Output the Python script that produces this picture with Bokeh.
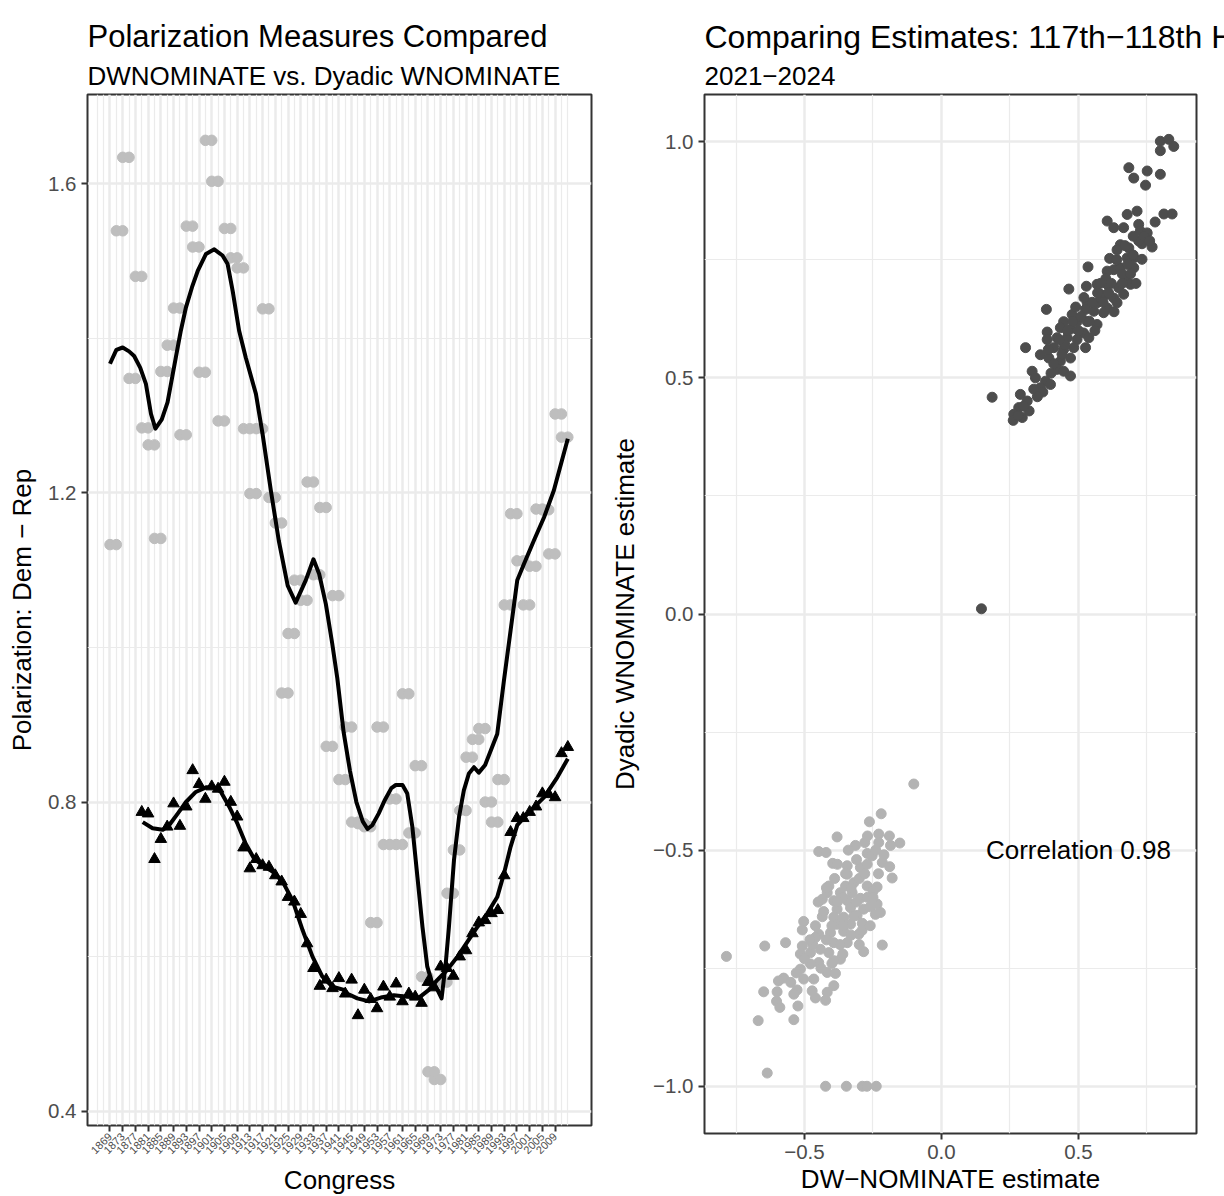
import math
from bokeh.plotting import figure
from bokeh.models import FixedTicker, CustomJSTickFormatter, Label, Range1d
from bokeh.layouts import row, column
from bokeh.embed import file_html
from bokeh.resources import INLINE

FONT = "Liberation Sans"
TICK_GREY = "#4D4D4D"
BORDER = "#333333"
GRID = "#EBEBEB"

# ---------------- left panel data ----------------
left_title = "Polarization Measures Compared"
left_subtitle = "DWNOMINATE vs. Dyadic WNOMINATE"
congress_start = list(range(1869, 2012, 2))
dwnominate_gap = [
    1.133, 1.539, 1.634, 1.348, 1.480, 1.284, 1.262, 1.141, 1.357, 1.391,
    1.439, 1.275, 1.545, 1.518, 1.356, 1.656, 1.603, 1.293, 1.542, 1.504,
    1.491, 1.283, 1.199, 1.283, 1.438, 1.194, 1.161, 0.941, 1.018, 1.087,
    1.061, 1.214, 1.094, 1.181, 0.872, 1.067, 0.829, 0.897, 0.774, 0.772,
    0.768, 0.644, 0.897, 0.745, 0.804, 0.745, 0.940, 0.760, 0.847, 0.574,
    0.451, 0.441, 0.567, 0.682, 0.738, 0.789, 0.858, 0.881, 0.895, 0.800,
    0.774, 0.829, 1.055, 1.173, 1.112, 1.055, 1.105, 1.179, 1.178, 1.121,
    1.302, 1.272]

dyadic_year = list(range(1879, 2014, 2))
dyadic_gap = [
    0.787, 0.785, 0.726, 0.752, 0.768, 0.798, 0.769, 0.794, 0.841, 0.823,
    0.804, 0.820, 0.817, 0.826, 0.800, 0.781, 0.741, 0.714, 0.726, 0.718,
    0.716, 0.705, 0.697, 0.677, 0.671, 0.655, 0.617, 0.585, 0.562, 0.570,
    0.559, 0.572, 0.552, 0.570, 0.524, 0.557, 0.545, 0.533, 0.561, 0.548,
    0.565, 0.542, 0.552, 0.548, 0.540, 0.567, 0.560, 0.587, 0.585, 0.575,
    0.600, 0.608, 0.630, 0.644, 0.647, 0.656, 0.660, 0.705, 0.761, 0.779,
    0.779, 0.787, 0.794, 0.811, 0.810, 0.806, 0.863, 0.871]

dw_smooth_year = [
    1869.0, 1871.0, 1873.0, 1875.0, 1876.6, 1878.5, 1880.3, 1881.9, 1883.3, 1885.3,
    1887.1, 1889.7, 1891.3, 1892.9, 1894.8, 1896.6, 1899.2, 1901.8, 1904.4, 1906.0,
    1907.6, 1909.6, 1911.7, 1914.9, 1917.0, 1919.6, 1922.1, 1924.9, 1927.4, 1930.6,
    1933.0, 1934.8, 1936.9, 1938.9, 1940.5, 1942.5, 1944.5, 1946.5, 1948.5, 1950.0,
    1951.5, 1953.5, 1955.5, 1957.5, 1958.9, 1961.0, 1962.5, 1964.1, 1965.7, 1967.3,
    1968.8, 1970.4, 1972.0, 1973.3, 1974.6, 1975.6, 1977.2, 1978.8, 1980.3, 1981.9,
    1983.5, 1985.0, 1987.0, 1990.8, 1992.9, 1995.0, 1997.1, 1999.2, 2002.3, 2005.5,
    2008.6, 2013.0]
dw_smooth_value = [
    1.367, 1.385, 1.388, 1.383, 1.377, 1.362, 1.341, 1.302, 1.283, 1.295,
    1.317, 1.375, 1.410, 1.440, 1.466, 1.487, 1.509, 1.515, 1.507, 1.496,
    1.461, 1.410, 1.375, 1.328, 1.276, 1.203, 1.138, 1.080, 1.058, 1.087,
    1.114, 1.095, 1.056, 1.005, 0.960, 0.890, 0.840, 0.800, 0.775, 0.765,
    0.770, 0.785, 0.803, 0.818, 0.822, 0.822, 0.811, 0.768, 0.703, 0.638,
    0.587, 0.565, 0.557, 0.546, 0.591, 0.638, 0.725, 0.781, 0.815, 0.837,
    0.845, 0.838, 0.848, 0.888, 0.957, 1.022, 1.087, 1.108, 1.138, 1.168,
    1.203, 1.270]

dyadic_smooth_year = [
    1879.3, 1882.4, 1885.6, 1887.6, 1890.3, 1892.9, 1896.0, 1899.2, 1901.8, 1903.9,
    1906.5, 1909.1, 1911.7, 1914.3, 1917.0, 1920.1, 1923.3, 1926.4, 1929.6, 1932.7,
    1935.8, 1939.0, 1942.6, 1943.7, 1946.8, 1950.5, 1954.2, 1958.3, 1962.5, 1966.2,
    1969.3, 1972.0, 1975.1, 1978.3, 1981.4, 1984.5, 1987.7, 1990.8, 1992.9, 1995.0,
    1997.1, 2001.3, 2005.5, 2009.7, 2013.0]
dyadic_smooth_value = [
    0.774, 0.766, 0.764, 0.770, 0.785, 0.800, 0.813, 0.819, 0.819, 0.813,
    0.794, 0.772, 0.746, 0.727, 0.718, 0.710, 0.697, 0.673, 0.634, 0.600,
    0.574, 0.561, 0.557, 0.552, 0.546, 0.542, 0.547, 0.550, 0.548, 0.547,
    0.557, 0.570, 0.583, 0.600, 0.619, 0.638, 0.656, 0.677, 0.707, 0.742,
    0.770, 0.789, 0.806, 0.832, 0.856]

year_ticks = list(range(1869, 2010, 4))
year_minor = [y for y in range(1865, 2014, 2) if y not in year_ticks]
left_y_ticks = [0.4, 0.8, 1.2, 1.6]
left_y_minor = [0.6, 1.0, 1.4]

# ---------------- right panel data ----------------
right_title = "Comparing Estimates: 117th\u2212118th House"
right_subtitle = "2021\u22122024"
rep_dw = [
    0.799, 0.830, 0.848, 0.799,
    0.684, 0.702, 0.751, 0.745, 0.799,
    0.812, 0.842,
    0.605, 0.629, 0.665, 0.678, 0.714, 0.720, 0.726, 0.751,
    0.732, 0.769, 0.653, 0.684, 0.641, 0.702, 0.732, 0.614, 0.678,
    0.535, 0.605, 0.629, 0.653, 0.702,
    0.672, 0.690, 0.647, 0.605, 0.568, 0.529, 0.465,
    0.580, 0.605, 0.629, 0.665, 0.568, 0.532, 0.641, 0.605,
    0.526, 0.556, 0.592, 0.477, 0.383,
    0.495, 0.532, 0.568, 0.446, 0.434, 0.471, 0.519, 0.386,
    0.422, 0.459, 0.495, 0.538, 0.386,
    0.410, 0.446, 0.483, 0.526, 0.307,
    0.361, 0.392, 0.434, 0.471,
    0.422, 0.446, 0.471, 0.331, 0.343, 0.380, 0.398, 0.361, 0.337,
    0.288, 0.313, 0.185, 0.282, 0.264, 0.295, 0.262,
    0.146,
    0.480, 0.500, 0.510, 0.550, 0.570, 0.600, 0.620, 0.660, 0.680, 0.700,
    0.720, 0.740, 0.640, 0.590, 0.540, 0.450, 0.440, 0.410, 0.400, 0.370,
    0.350, 0.320, 0.300, 0.280, 0.520, 0.490, 0.460, 0.430, 0.560, 0.610,
    0.630, 0.660, 0.690, 0.710, 0.760, 0.780, 0.700, 0.670, 0.580, 0.390]
rep_dyadic = [
    1.001, 1.005, 0.990, 0.981,
    0.945, 0.923, 0.938, 0.908, 0.931,
    0.847, 0.847,
    0.832, 0.818, 0.818, 0.846, 0.853, 0.825, 0.811, 0.807,
    0.784, 0.777, 0.782, 0.775, 0.771, 0.754, 0.751, 0.753, 0.754,
    0.735, 0.726, 0.729, 0.733, 0.733,
    0.708, 0.698, 0.691, 0.698, 0.698, 0.694, 0.688,
    0.677, 0.677, 0.669, 0.677, 0.659, 0.659, 0.659, 0.648,
    0.645, 0.641, 0.638, 0.634, 0.645,
    0.619, 0.619, 0.613, 0.619, 0.606, 0.603, 0.595, 0.597,
    0.585, 0.585, 0.581, 0.585, 0.581,
    0.564, 0.560, 0.564, 0.564, 0.564,
    0.549, 0.542, 0.535, 0.542,
    0.518, 0.514, 0.504, 0.514, 0.500, 0.493, 0.486, 0.479, 0.476,
    0.465, 0.451, 0.459, 0.437, 0.423, 0.416, 0.410,
    0.011,
    0.620, 0.600, 0.630, 0.660, 0.680, 0.710, 0.700, 0.720, 0.740, 0.760,
    0.790, 0.800, 0.750, 0.660, 0.620, 0.570, 0.550, 0.530, 0.510, 0.470,
    0.460, 0.430, 0.440, 0.420, 0.670, 0.650, 0.600, 0.580, 0.600, 0.680,
    0.640, 0.700, 0.720, 0.700, 0.790, 0.830, 0.800, 0.780, 0.700, 0.560]

dem_dw = [
    -0.101, -0.220, -0.263, -0.229, -0.229, -0.381, -0.314, -0.280, -0.186, -0.152,
    -0.448, -0.421, -0.271, -0.253, -0.397, -0.344, -0.296, -0.216, -0.189, -0.344, -0.271, -0.180,
    -0.411, -0.350, -0.320, -0.271, -0.235, -0.417, -0.369, -0.326, -0.249,
    -0.435, -0.393, -0.344, -0.296, -0.235, -0.381, -0.332, -0.284,
    -0.435, -0.393, -0.357, -0.308, -0.241, -0.223, -0.381, -0.332, -0.289,
    -0.503, -0.508, -0.448, -0.405, -0.357, -0.302, -0.216, -0.284, -0.344, -0.393, -0.460, -0.508,
    -0.569, -0.645, -0.785,
    -0.515, -0.478, -0.442, -0.411, -0.369, -0.393, -0.448, -0.478, -0.515, -0.417, -0.387,
    -0.466, -0.503, -0.576, -0.595, -0.393, -0.527, -0.472, -0.649, -0.600, -0.539, -0.417,
    -0.460, -0.602, -0.423, -0.590, -0.524, -0.539, -0.669, -0.636,
    -0.423, -0.347, -0.289, -0.272, -0.238,
    -0.300, -0.330, -0.360, -0.380, -0.310, -0.270, -0.260, -0.320, -0.360, -0.400,
    -0.420, -0.370, -0.330, -0.290, -0.260, -0.250, -0.280, -0.310, -0.350, -0.390,
    -0.430, -0.460, -0.470, -0.500, -0.530, -0.550, -0.440, -0.400, -0.360, -0.300,
    -0.230, -0.210, -0.240, -0.270, -0.190, -0.340, -0.380, -0.420, -0.450, -0.480]
dem_dyadic = [
    -0.360, -0.423, -0.440, -0.466, -0.484, -0.472, -0.490, -0.484, -0.490, -0.485,
    -0.503, -0.505, -0.507, -0.512, -0.528, -0.533, -0.537, -0.526, -0.535, -0.551, -0.530, -0.559,
    -0.576, -0.576, -0.569, -0.576, -0.578, -0.590, -0.590, -0.590, -0.586,
    -0.604, -0.607, -0.607, -0.602, -0.614, -0.625, -0.622, -0.625,
    -0.641, -0.642, -0.642, -0.638, -0.636, -0.632, -0.657, -0.657, -0.655,
    -0.651, -0.669, -0.678, -0.675, -0.672, -0.678, -0.701, -0.715, -0.696, -0.696, -0.685, -0.703,
    -0.696, -0.703, -0.725,
    -0.720, -0.717, -0.710, -0.717, -0.731, -0.734, -0.738, -0.741, -0.752, -0.759, -0.761,
    -0.773, -0.773, -0.771, -0.777, -0.787, -0.796, -0.798, -0.800, -0.800, -0.805, -0.801,
    -0.813, -0.820, -0.818, -0.833, -0.830, -0.859, -0.861, -0.972,
    -1.000, -1.000, -1.000, -1.000, -1.000,
    -0.560, -0.580, -0.600, -0.610, -0.610, -0.600, -0.620, -0.640, -0.660, -0.660,
    -0.690, -0.700, -0.680, -0.670, -0.660, -0.600, -0.550, -0.520, -0.550, -0.560,
    -0.630, -0.660, -0.700, -0.730, -0.760, -0.780, -0.750, -0.740, -0.720, -0.700,
    -0.550, -0.510, -0.500, -0.470, -0.470, -0.500, -0.530, -0.580, -0.610, -0.690]

correlation_text = "Correlation 0.98"
correlation_pos = (0.5, -0.5)
right_x_ticks = [-0.5, 0.0, 0.5]
right_x_minor = [-0.75, -0.25, 0.25, 0.75]
right_y_ticks = [-1.0, -0.5, 0.0, 0.5, 1.0]
right_y_minor = [-0.75, -0.25, 0.25, 0.75]

MINUS_FMT = "return (tick < 0 ? '\u2212' : '') + Math.abs(tick).toFixed(1);"
HEADER_H = 93
TITLE_BASELINE = 36
SUBTITLE_BASELINE = 75


def style(p):
    p.outline_line_color = BORDER
    p.outline_line_width = 2
    p.background_fill_color = "white"
    p.border_fill_color = "white"
    for ax in (p.xaxis, p.yaxis):
        ax.axis_line_color = None
        ax.major_tick_line_color = BORDER
        ax.major_tick_line_width = 2
        ax.major_tick_out = 6
        ax.major_tick_in = 0
        ax.minor_tick_line_color = None
        ax.major_label_text_font = FONT
        ax.major_label_text_color = TICK_GREY
        ax.major_label_text_font_size = "20.5px"
        ax.major_label_standoff = 5
        ax.axis_label_text_font = FONT
        ax.axis_label_text_font_size = "26px"
        ax.axis_label_text_font_style = "normal"
        ax.axis_label_text_color = "black"
    for g in (p.xgrid, p.ygrid):
        g.grid_line_color = GRID
        g.grid_line_width = 2.5
        g.minor_grid_line_color = GRID
        g.minor_grid_line_width = 1.2


def header(x0, width, title, subtitle, title_size, text_x):
    # page-pixel coordinates: x grows right, y grows downward
    h = figure(width=width, height=HEADER_H, x_range=Range1d(x0, x0 + width),
               y_range=Range1d(HEADER_H, 0), x_axis_type=None, y_axis_type=None,
               min_border=0, output_backend="svg", toolbar_location=None)
    h.outline_line_color = None
    h.background_fill_color = "white"
    h.border_fill_color = "white"
    h.add_layout(Label(x=text_x, y=TITLE_BASELINE, text=title, text_font=FONT,
                       text_font_size=title_size, text_color="black",
                       text_align="left", text_baseline="alphabetic"))
    h.add_layout(Label(x=text_x, y=SUBTITLE_BASELINE, text=subtitle, text_font=FONT,
                       text_font_size="26px", text_color="black",
                       text_align="left", text_baseline="alphabetic"))
    return h


# ---------------- left figure ----------------
p1 = figure(frame_width=504, frame_height=1031,
            x_range=Range1d(1861.93, 2020.45), y_range=Range1d(0.3815, 1.7153),
            output_backend="svg", toolbar_location=None,
            min_border_left=87, min_border_right=9, min_border_top=1, min_border_bottom=71,
            x_axis_label="Congress", y_axis_label="Polarization: Dem \u2212 Rep")
style(p1)
p1.xaxis.ticker = FixedTicker(ticks=year_ticks, minor_ticks=year_minor)
p1.xaxis.formatter = CustomJSTickFormatter(code="return tick.toFixed(0);")
p1.xaxis.major_label_orientation = math.pi / 4
p1.xaxis.major_label_text_font_size = "11px"
p1.xaxis.major_label_standoff = 3
p1.xaxis.axis_label_standoff = 5
p1.yaxis.ticker = FixedTicker(ticks=left_y_ticks, minor_ticks=left_y_minor)
p1.yaxis.formatter = CustomJSTickFormatter(code=MINUS_FMT)
p1.yaxis.axis_label_standoff = 8

gray_x = congress_start + [c + 2 for c in congress_start]
gray_y = dwnominate_gap + dwnominate_gap
p1.scatter(gray_x, gray_y, size=10.5, color="#BEBEBE")
p1.scatter(dyadic_year, dyadic_gap, marker="triangle", size=11.5, color="black")
p1.line(dw_smooth_year, dw_smooth_value, line_width=4, color="black", line_join="round")
p1.line(dyadic_smooth_year, dyadic_smooth_value, line_width=4, color="black", line_join="round")

# ---------------- right figure ----------------
p2 = figure(frame_width=492, frame_height=1039,
            x_range=Range1d(-0.865, 0.931), y_range=Range1d(-1.1, 1.1),
            output_backend="svg", toolbar_location=None,
            min_border_left=104, min_border_right=28, min_border_top=1, min_border_bottom=63,
            x_axis_label="DW\u2212NOMINATE estimate", y_axis_label="Dyadic WNOMINATE estimate")
style(p2)
p2.xaxis.ticker = FixedTicker(ticks=right_x_ticks, minor_ticks=right_x_minor)
p2.yaxis.ticker = FixedTicker(ticks=right_y_ticks, minor_ticks=right_y_minor)
p2.xaxis.formatter = CustomJSTickFormatter(code=MINUS_FMT)
p2.yaxis.formatter = CustomJSTickFormatter(code=MINUS_FMT)
p2.xaxis.axis_label_standoff = 2
p2.yaxis.axis_label_standoff = 10

p2.scatter(dem_dw, dem_dyadic, size=10, color="#B3B3B3")
p2.scatter(rep_dw, rep_dyadic, size=10, color="#4D4D4D")
p2.add_layout(Label(x=correlation_pos[0], y=correlation_pos[1], text=correlation_text,
                    text_font=FONT, text_font_size="26px", text_color="black",
                    text_align="center", text_baseline="middle"))

h1 = header(0, 600, left_title, left_subtitle, "31px", 87)
h2 = header(600, 624, right_title, right_subtitle, "32px", 704)

layout = column(row(h1, h2), row(p1, p2))
open("out.html", "w").write(file_html(layout, INLINE))
